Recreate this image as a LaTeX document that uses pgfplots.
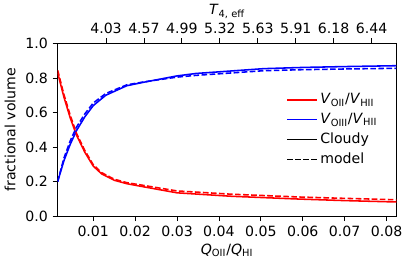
\documentclass[border=0pt]{standalone}
\usepackage{fontspec}
\setmainfont{DejaVu Sans}
\usepackage{pgfplots}
\pgfplotsset{compat=1.18}
\begin{document}
\begin{tikzpicture}
\pgfplotsset{
  every axis/.append style={
    scale only axis, width=240pt, height=122.4pt,
    xmin=0.00152, xmax=0.08233, ymin=0, ymax=1,
    tick align=outside, major tick length=3.5pt,
    /pgf/number format/assume math mode=true,
    tick label style={font=\fontsize{10}{12}\selectfont},
    label style={font=\fontsize{10}{12}\selectfont},
    axis line style={line width=0.6pt},
    every tick/.style={line width=0.6pt, black},
  }
}
\begin{axis}[
  xtick={0.01,0.02,0.03,0.04,0.05,0.06,0.07,0.08},
  ytick={0,0.2,0.4,0.6,0.8,1.0},
  xtick pos=bottom, ytick pos=left,
  scaled x ticks=false,
  xticklabel style={/pgf/number format/.cd, fixed, fixed zerofill, precision=2},
  yticklabel style={/pgf/number format/.cd, fixed, fixed zerofill, precision=1},
  xlabel={\textit{Q}\textsubscript{OII}/\textit{Q}\textsubscript{HI}},
  ylabel={fractional volume},
  xlabel style={yshift=2pt},
  legend style={draw=none, fill=none, at={(0.965,0.5)}, anchor=east,
    font=\fontsize{10}{12}\selectfont, row sep=1.2pt},
  legend cell align=left,
]
% red solid (Cloudy) V_OII/V_HII
\addplot[red, line width=1.1pt, forget plot] coordinates {
(0.00152,0.830) (0.003,0.690) (0.0045,0.570) (0.006,0.470) (0.008,0.370)
(0.010,0.290) (0.012,0.245) (0.015,0.208) (0.018,0.188) (0.022,0.170)
(0.030,0.135) (0.043,0.115) (0.059,0.099) (0.070,0.090) (0.08233,0.082)};
% blue solid (Cloudy) V_OIII/V_HII
\addplot[blue, line width=1.1pt, forget plot] coordinates {
(0.00152,0.200) (0.003,0.320) (0.0045,0.415) (0.006,0.495) (0.008,0.575)
(0.010,0.640) (0.013,0.700) (0.018,0.755) (0.022,0.775) (0.030,0.812)
(0.0345,0.826) (0.0507,0.854) (0.060,0.861) (0.070,0.866) (0.08233,0.871)};
% red dashed (model)
\addplot[red, line width=1.1pt, dash pattern=on 4pt off 1.7pt, forget plot] coordinates {
(0.00152,0.845) (0.003,0.705) (0.0045,0.585) (0.006,0.480) (0.008,0.380)
(0.010,0.298) (0.012,0.252) (0.015,0.214) (0.018,0.194) (0.022,0.178)
(0.030,0.146) (0.043,0.127) (0.059,0.111) (0.070,0.103) (0.08233,0.095)};
% blue dashed (model)
\addplot[blue, line width=1.1pt, dash pattern=on 4pt off 1.7pt, forget plot] coordinates {
(0.00152,0.200) (0.003,0.335) (0.0045,0.435) (0.006,0.515) (0.008,0.592)
(0.010,0.655) (0.013,0.710) (0.018,0.760) (0.022,0.777) (0.030,0.805)
(0.0345,0.815) (0.0507,0.842) (0.060,0.848) (0.070,0.852) (0.08233,0.856)};
\addlegendimage{legend image code/.code={\draw[draw=red, line width=1.1pt] (0pt,0pt) -- (21pt,0pt);}}
\addlegendentry{\textit{V}\textsubscript{OII}/\textit{V}\textsubscript{HII}}
\addlegendimage{legend image code/.code={\draw[draw=blue, line width=1.1pt] (0pt,0pt) -- (21pt,0pt);}}
\addlegendentry{\textit{V}\textsubscript{OIII}/\textit{V}\textsubscript{HII}}
\addlegendimage{legend image code/.code={\draw[draw=black, line width=1.1pt] (0pt,0pt) -- (21pt,0pt);}}
\addlegendentry{Cloudy}
\addlegendimage{legend image code/.code={\draw[draw=black, line width=1.1pt, dash pattern=on 4pt off 1.7pt] (0pt,0pt) -- (21pt,0pt);}}
\addlegendentry{model}
\end{axis}
\begin{axis}[
  axis x line*=top, axis y line=none,
  scaled x ticks=false,
  xtick={0.01305,0.02211,0.03116,0.04022,0.04927,0.05833,0.06738,0.07644},
  xticklabels={4.03,4.57,4.99,5.32,5.63,5.91,6.18,6.44},
  xlabel={\textit{T}\textsubscript{4, eff}},
  xlabel style={yshift=-4pt},
]
\end{axis}
\end{tikzpicture}
\end{document}
